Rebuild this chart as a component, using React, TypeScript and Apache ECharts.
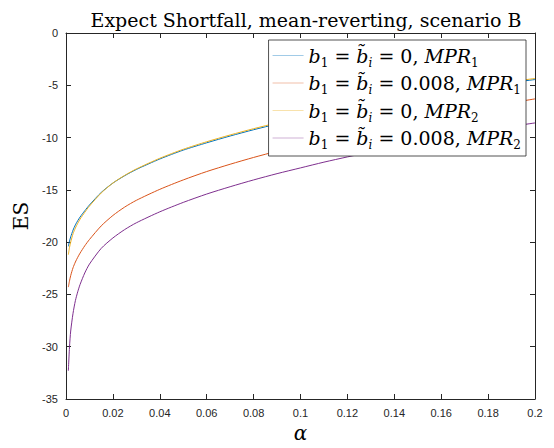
import React, { useEffect, useRef } from "react";
import * as echarts from "echarts";

const alphas = [0.001, 0.0015, 0.002, 0.003, 0.004, 0.005, 0.006, 0.008, 0.01, 0.015, 0.02, 0.025, 0.03, 0.04, 0.05, 0.06, 0.07, 0.08, 0.09, 0.1, 0.11, 0.12, 0.13, 0.14, 0.15, 0.16, 0.17, 0.18, 0.19, 0.2];
const esB0Mpr1 = [-20.4, -19.9, -19.5, -18.85, -18.35, -17.95, -17.6, -17.0, -16.45, -15.25, -14.35, -13.65, -13.05, -12.05, -11.2, -10.5, -9.85, -9.25, -8.7, -8.2, -7.72, -7.28, -6.86, -6.46, -6.08, -5.72, -5.38, -5.05, -4.74, -4.45];
const esB008Mpr1 = [-24.3, -23.7, -23.2, -22.45, -21.9, -21.45, -21.05, -20.35, -19.75, -18.45, -17.45, -16.65, -16.0, -14.95, -14.05, -13.25, -12.55, -11.9, -11.3, -10.7, -10.16, -9.65, -9.17, -8.7, -8.27, -7.85, -7.45, -7.05, -6.67, -6.3];
const esB0Mpr2 = [-21.2, -20.5, -20.0, -19.2, -18.65, -18.2, -17.8, -17.15, -16.55, -15.3, -14.35, -13.62, -13.0, -11.98, -11.12, -10.4, -9.75, -9.15, -8.6, -8.1, -7.62, -7.18, -6.76, -6.36, -5.98, -5.62, -5.28, -4.95, -4.64, -4.35];
const esB008Mpr2 = [-32.3, -30.0, -28.5, -26.8, -25.6, -24.75, -24.05, -22.95, -22.1, -20.6, -19.6, -18.8, -18.15, -17.1, -16.2, -15.4, -14.7, -14.05, -13.45, -12.9, -12.35, -11.85, -11.38, -10.93, -10.5, -10.08, -9.68, -9.3, -8.93, -8.6];

const seriesNames = ["b0mpr1", "b008mpr1", "b0mpr2", "b008mpr2"];
const seriesValues = [esB0Mpr1, esB008Mpr1, esB0Mpr2, esB008Mpr2];
const seriesColors = ["#0072BD", "#D95319", "#EDB120", "#7E2F8E"];
const legendLabels: Record<string, string> = {
  b0mpr1: "{it|b}{sub|1}{rm| = }{it|b\u0303}{subi|i}{rm| = 0, }{it|MPR}{sub|1}",
  b008mpr1: "{it|b}{sub|1}{rm| = }{it|b\u0303}{subi|i}{rm| = 0.008, }{it|MPR}{sub|1}",
  b0mpr2: "{it|b}{sub|1}{rm| = }{it|b\u0303}{subi|i}{rm| = 0, }{it|MPR}{sub|2}",
  b008mpr2: "{it|b}{sub|1}{rm| = }{it|b\u0303}{subi|i}{rm| = 0.008, }{it|MPR}{sub|2}",
};

const SERIF = "'DejaVu Serif', 'Liberation Serif', serif";
const SANS = "'Liberation Sans', Arial, sans-serif";
const AXIS = "#262626";

export default function App() {
  const ref = useRef<HTMLDivElement>(null);
  useEffect(() => {
    if (!ref.current) return;
    const chart = echarts.init(ref.current, undefined, { renderer: "svg" });
    const axisCommon = {
      axisLine: { show: true, onZero: false, lineStyle: { color: AXIS, width: 1 } },
      axisTick: { show: true, inside: true, length: 5, lineStyle: { color: AXIS } },
      splitLine: { show: false },
    };
    chart.setOption({
      animation: false,
      backgroundColor: "#fff",
      title: {
        text: "Expect Shortfall, mean-reverting, scenario B",
        left: 301,
        textAlign: "center",
        top: 5,
        textStyle: { fontFamily: SERIF, fontSize: 19, fontWeight: "normal", color: "#000" },
      },
      grid: { left: 66, right: 19, top: 33, bottom: 45 },
      legend: {
        orient: "vertical",
        right: 28,
        top: 40,
        itemWidth: 31,
        itemHeight: 10,
        itemGap: 5,
        padding: [6, 5, 5, 4],
        backgroundColor: "#fff",
        borderColor: AXIS,
        borderWidth: 0.8,
        data: seriesNames.map((n) => ({ name: n, icon: "path://M0,0 L10,0 L10,0.12 L0,0.12 Z" })),
        formatter: (n: string) => legendLabels[n],
        textStyle: {
          color: "#000",
          rich: {
            it: { fontFamily: SERIF, fontStyle: "italic", fontSize: 19, lineHeight: 26, color: "#000" },
            rm: { fontFamily: SERIF, fontSize: 19, lineHeight: 26, color: "#000" },
            sub: { fontFamily: SERIF, fontSize: 12, lineHeight: 26, verticalAlign: "bottom", color: "#000" },
            subi: { fontFamily: SERIF, fontStyle: "italic", fontSize: 12, lineHeight: 26, verticalAlign: "bottom", color: "#000" },
          },
        },
      },
      xAxis: [
        {
          type: "value",
          min: 0,
          max: 0.2,
          interval: 0.02,
          position: "bottom",
          ...axisCommon,
          axisLabel: { color: AXIS, fontFamily: SANS, fontSize: 11, margin: 8 },
          name: "α",
          nameLocation: "middle",
          nameGap: 24,
          nameTextStyle: { fontFamily: SERIF, fontStyle: "italic", fontSize: 20, color: "#000" },
        },
        {
          type: "value",
          min: 0,
          max: 0.2,
          interval: 0.02,
          position: "top",
          ...axisCommon,
          axisLabel: { show: false },
        },
      ],
      yAxis: [
        {
          type: "value",
          min: -35,
          max: 0,
          interval: 5,
          position: "left",
          ...axisCommon,
          axisLabel: { color: AXIS, fontFamily: SANS, fontSize: 11, margin: 8 },
          name: "ES",
          nameLocation: "middle",
          nameRotate: 90,
          nameGap: 34,
          nameTextStyle: { fontFamily: SERIF, fontSize: 20, color: "#000" },
        },
        {
          type: "value",
          min: -35,
          max: 0,
          interval: 5,
          position: "right",
          ...axisCommon,
          axisLabel: { show: false },
        },
      ],
      series: seriesNames.map((n, k) => ({
        name: n,
        type: "line",
        xAxisIndex: 0,
        yAxisIndex: 0,
        symbol: "none",
        smooth: 0.25,
        lineStyle: { color: seriesColors[k], width: 1 },
        itemStyle: { color: seriesColors[k] },
        data: alphas.map((a, i) => [a, seriesValues[k][i]]),
      })),
    });
    return () => chart.dispose();
  }, []);
  return <div ref={ref} style={{ position: "absolute", left: 0, top: 0, width: 554, height: 448 }} />;
}
